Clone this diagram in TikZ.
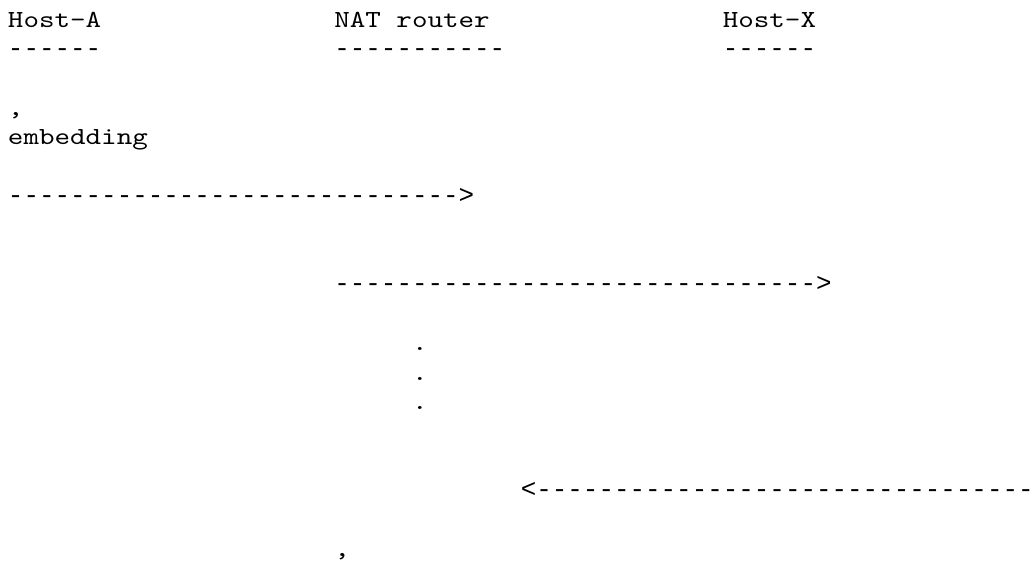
\documentclass[tikz,border=0pt]{standalone}
\usepackage{fontspec}
\setmonofont[FakeStretch=1.208]{lmmono10-regular.otf}
\newfontfamily\dashfont{Liberation Mono}
\begin{document}
\begin{tikzpicture}[x=15.54pt, y=-29.4pt,
  txt/.style={anchor=base west, inner sep=0pt, outer sep=0pt,
    font=\ttfamily\fontsize{24.5pt}{29.4pt}\selectfont, text=black},
  dashtxt/.style={txt, font=\dashfont\fontsize{25.9pt}{29.4pt}\selectfont}]
\path[use as bounding box, fill=white] (-0.5148,-0.9286) rectangle (66.088,18.459);
% header row
\node[txt] (hostA) at (0,0) {Host-A};
\node[txt] (nat) at (21,0) {NAT router};
\node[txt] (hostX) at (46,0) {Host-X};
\node[dashtxt] (ulA) at (0,1) {------};
\node[dashtxt] (ulN) at (21,1) {-----------};
\node[dashtxt] (ulX) at (46,1) {------};
% label
\node[txt] (comma1) at (0,3) {,};
\node[txt] (embed) at (0,4) {embedding};
% messages
\node[dashtxt] (msg1) at (0,6) {----------------------------->};
\node[dashtxt] (msg2) at (21,9) {------------------------------->};
\node[txt] (dot1) at (26,11) {.};
\node[txt] (dot2) at (26,12) {.};
\node[txt] (dot3) at (26,13) {.};
\node[dashtxt] (msg3) at (33,16) {<--------------------------------};
\node[txt] (comma2) at (21,18) {,};
\end{tikzpicture}
\end{document}
